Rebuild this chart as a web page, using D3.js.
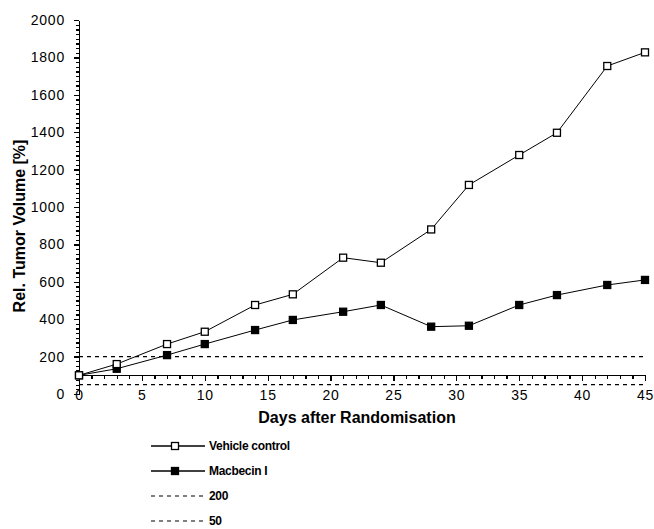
<!DOCTYPE html>
<html>
<head>
<meta charset="utf-8">
<title>Rel. Tumor Volume</title>
<script src="https://cdn.jsdelivr.net/npm/d3@7"></script>
<style>
  body { margin: 0; background: #fff; }
  svg { display: block; background: #fff; font-family: "Liberation Sans", Arial, sans-serif; }
  .axis path, .axis line { fill: none; stroke: #000; stroke-width: 1.3; shape-rendering: crispEdges; }
  .axis text { font-size: 14px; letter-spacing: 0.8px; fill: #000; }
  .title { font-weight: bold; font-size: 16px; }
  .legend text { font-size: 12px; font-weight: bold; letter-spacing: -0.3px; }
</style>
</head>
<body>
<script>
// data
var days = [0, 3, 7, 10, 14, 17, 21, 24, 28, 31, 35, 38, 42, 45];
var vehicle = [100, 160, 267, 333, 476, 533, 729, 702, 880, 1118, 1278, 1397, 1754, 1827];
var macbecin = [100, 135, 208, 267, 342, 396, 440, 476, 360, 365, 476, 529, 583, 610];
var refLines = [200, 50];
var xTickVals = d3.range(0, 46, 5);
var yTickVals = d3.range(0, 2001, 200);
var seriesNames = ["Vehicle control", "Macbecin I", "200", "50"];

var w = 654, h = 529;

var x = d3.scaleLinear().domain([0, 45]).range([79, 645]);
var y = d3.scaleLinear().domain([0, 2000]).range([394, 20]);

var svg = d3.select("body").append("svg")
    .attr("width", w)
    .attr("height", h);

// y axis: minor ticks then major
svg.append("g")
    .attr("class", "axis")
    .attr("transform", "translate(" + x(0) + ",0)")
    .call(d3.axisLeft(y).tickValues(d3.range(0, 2001, 25)).tickFormat("").tickSize(3).tickSizeOuter(0));
svg.append("g")
    .attr("class", "axis")
    .attr("transform", "translate(" + x(0) + ",0)")
    .call(d3.axisLeft(y).tickValues(yTickVals).tickFormat(d3.format("d")).tickSize(5).tickPadding(9).tickSizeOuter(0));

// x axis sits at 100 %
svg.append("g")
    .attr("class", "axis")
    .attr("transform", "translate(0," + y(100) + ")")
    .call(d3.axisBottom(x).tickValues(d3.range(0, 46, 1)).tickFormat("").tickSize(4).tickSizeOuter(0));
svg.append("g")
    .attr("class", "axis")
    .attr("transform", "translate(0," + y(100) + ")")
    .call(d3.axisBottom(x).tickValues(xTickVals).tickFormat(d3.format("d")).tickSize(6).tickPadding(9).tickSizeOuter(0));

// dashed reference lines
svg.selectAll(".ref")
    .data(refLines)
    .enter().append("line")
    .attr("class", "ref")
    .attr("x1", x(0)).attr("x2", x(45))
    .attr("y1", function(d) { return y(d); })
    .attr("y2", function(d) { return y(d); })
    .attr("stroke", "#000")
    .attr("stroke-width", 1.2)
    .attr("stroke-dasharray", "4,4");

var line = d3.line()
    .x(function(d, i) { return x(days[i]); })
    .y(function(d) { return y(d); });

var series = [
    { name: seriesNames[0], values: vehicle, fill: "#fff" },
    { name: seriesNames[1], values: macbecin, fill: "#000" }
];

// lines first, then markers (filled series underneath the open one)
series.slice().reverse().forEach(function(s) {
    svg.append("path")
        .datum(s.values)
        .attr("d", line)
        .attr("fill", "none")
        .attr("stroke", "#000")
        .attr("stroke-width", 1);
});
series.slice().reverse().forEach(function(s) {
    svg.append("g").selectAll("rect")
        .data(s.values)
        .enter().append("rect")
        .attr("x", function(d, i) { return x(days[i]) - 3.5; })
        .attr("y", function(d) { return y(d) - 3.5; })
        .attr("width", 7)
        .attr("height", 7)
        .attr("fill", s.fill)
        .attr("stroke", "#000")
        .attr("stroke-width", 1.3);
});

// axis titles
svg.append("text")
    .attr("class", "title")
    .attr("x", 357)
    .attr("y", 423)
    .attr("text-anchor", "middle")
    .text("Days after Randomisation");

svg.append("text")
    .attr("class", "title")
    .attr("transform", "translate(25,226) rotate(-90)")
    .attr("text-anchor", "middle")
    .text("Rel. Tumor Volume [%]");

// legend
var legend = svg.append("g").attr("class", "legend");
var rowY = [446, 471, 496, 521];
seriesNames.forEach(function(name, i) {
    var g = legend.append("g").attr("transform", "translate(0," + rowY[i] + ")");
    g.append("line")
        .attr("x1", 151).attr("x2", 205)
        .attr("y1", 0).attr("y2", 0)
        .attr("stroke", "#000")
        .attr("stroke-width", i < 2 ? 1.3 : 1.2)
        .attr("stroke-dasharray", i < 2 ? null : "4,4");
    if (i < 2) {
        g.append("rect")
            .attr("x", 171.5).attr("y", -3.5)
            .attr("width", 7).attr("height", 7)
            .attr("fill", series[i].fill)
            .attr("stroke", "#000")
            .attr("stroke-width", 1.3);
    }
    g.append("text")
        .attr("x", 209)
        .attr("y", 4)
        .text(name);
});
</script>
</body>
</html>
